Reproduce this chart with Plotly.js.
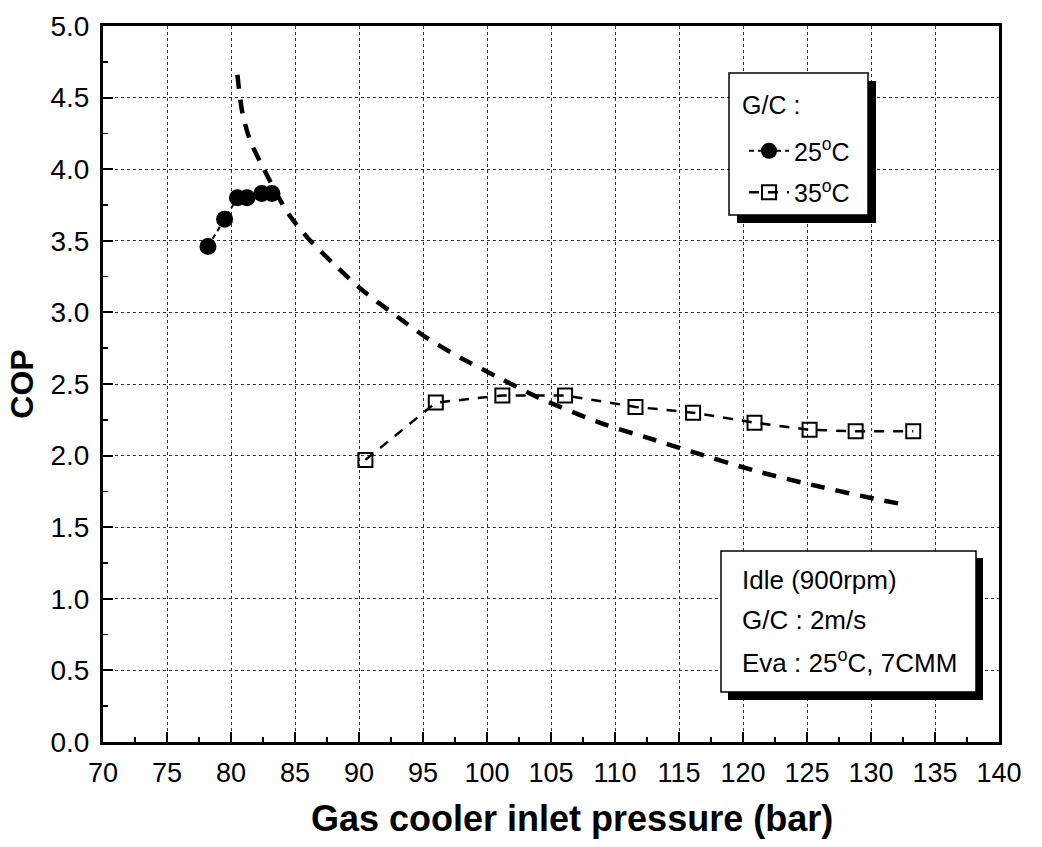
<!DOCTYPE html>
<html>
<head>
<meta charset="utf-8">
<script src="https://cdn.plot.ly/plotly-3.0.1.min.js"></script>
<style>html,body{margin:0;padding:0;background:#fff;}#chart{width:1042px;height:847px;}</style>
</head>
<body>
<div id="chart"></div>
<script>
// 25°C gas cooler data
const p25 = [78.2, 79.5, 80.5, 81.25, 82.4, 83.2];
const cop25 = [3.46, 3.65, 3.80, 3.80, 3.83, 3.83];
// 35°C gas cooler data
const p35 = [90.5, 96.0, 101.2, 106.1, 111.6, 116.1, 120.9, 125.2, 128.8, 133.3];
const cop35 = [1.97, 2.37, 2.42, 2.42, 2.34, 2.30, 2.23, 2.18, 2.17, 2.17];
// thick dashed trend curve
const pCurve = [80.5, 80.9, 81.5, 82.4, 84.4, 86.0, 88.0, 90.2, 93.0, 95.5, 98.4, 100.8, 103.9, 108.8, 112.7, 115.9, 121.1, 124.7, 130.2, 132.5];
const copCurve = [4.66, 4.39, 4.20, 4.03, 3.70, 3.52, 3.34, 3.16, 2.97, 2.81, 2.66, 2.55, 2.41, 2.23, 2.12, 2.03, 1.89, 1.81, 1.70, 1.66];
// ticks
const xTicks = [70, 75, 80, 85, 90, 95, 100, 105, 110, 115, 120, 125, 130, 135, 140];
const yTicks = [0.0, 0.5, 1.0, 1.5, 2.0, 2.5, 3.0, 3.5, 4.0, 4.5, 5.0];
const legendTitle = 'G/C :';
const name25 = '25<sup>o</sup>C';
const name35 = '35<sup>o</sup>C';
const noteLines = ['Idle (900rpm)', 'G/C : 2m/s', 'Eva : 25<sup>o</sup>C, 7CMM'];
const xTitle = 'Gas cooler inlet pressure (bar)';
const yTitle = 'COP';

const FONT = '"Liberation Sans", Arial, sans-serif';
const NARROW = '"Liberation Sans Narrow", "Arial Narrow", "Liberation Sans", sans-serif';

const traces = [
  {x: pCurve, y: copCurve, type: 'scatter', mode: 'lines', showlegend: false,
   line: {color: '#000', width: 4.5, dash: '14px,11px', shape: 'spline', smoothing: 0.8}},
  {x: p25, y: cop25, type: 'scatter', mode: 'lines+markers', name: name25, legendgroup: 'a',
   line: {color: '#000', width: 2, dash: '5px,4px'},
   marker: {symbol: 'circle', size: 17, color: '#000'}},
  {x: p35, y: cop35, type: 'scatter', mode: 'lines+markers', name: name35, legendgroup: 'b',
   line: {color: '#000', width: 2.5, dash: '10px,9px'},
   marker: {symbol: 'square-open', size: 14, color: '#000', line: {width: 2, color: '#000'}}}
];

const L = 103, R = 999, T = 26, B = 742;
const W = R - L, H = B - T;
function px(xp){ return (xp - L) / W; }
function py(yp){ return (B - yp) / H; }

const shapes = [
  // legend shadow + box
  {type: 'rect', xref: 'paper', yref: 'paper', x0: px(737), x1: px(876), y0: py(223), y1: py(81),
   fillcolor: '#000', line: {width: 0}, layer: 'above'},
  {type: 'rect', xref: 'paper', yref: 'paper', x0: px(729), x1: px(868), y0: py(215), y1: py(73),
   fillcolor: '#fff', line: {width: 1.5, color: '#000'}, layer: 'above'},
  // note box shadow + box
  {type: 'rect', xref: 'paper', yref: 'paper', x0: px(728), x1: px(983), y0: py(700), y1: py(558),
   fillcolor: '#000', line: {width: 0}, layer: 'above'},
  {type: 'rect', xref: 'paper', yref: 'paper', x0: px(721), x1: px(976), y0: py(692), y1: py(551),
   fillcolor: '#fff', line: {width: 1.5, color: '#000'}, layer: 'above'}
];

const annotations = noteLines.map((t, i) => ({
  text: t, xref: 'paper', yref: 'paper', x: px(740), y: py([580, 620, 661][i]),
  xanchor: 'left', yanchor: 'middle', showarrow: false,
  font: {family: FONT, size: 26, color: '#000'}
}));
annotations.push({
  text: legendTitle, xref: 'paper', yref: 'paper', x: px(740), y: py(105),
  xanchor: 'left', yanchor: 'middle', showarrow: false,
  font: {family: FONT, size: 25, color: '#000'}
});
annotations.push({
  text: '<b>' + xTitle + '</b>', xref: 'paper', yref: 'paper', x: px(572), y: py(818),
  xanchor: 'center', yanchor: 'middle', showarrow: false,
  font: {family: FONT, size: 36, color: '#000'}
});

const layout = {
  width: 1042, height: 847,
  margin: {l: L, r: 1042 - R, t: T, b: 847 - B},
  paper_bgcolor: '#fff', plot_bgcolor: '#fff',
  showlegend: true,
  legend: {
    x: px(744), y: py(128), xanchor: 'left', yanchor: 'top',
    bgcolor: 'rgba(0,0,0,0)', borderwidth: 0,
    font: {family: FONT, size: 25, color: '#000'},
    itemwidth: 40, tracegroupgap: 6
  },
  xaxis: {
    range: [70, 140], tickmode: 'array', tickvals: xTicks, ticktext: xTicks.map(String),
    ticks: 'inside', ticklen: 10, tickwidth: 2, tickcolor: '#000', ticklabelstandoff: 5,
    minor: {dtick: 2.5, tick0: 70, ticks: 'inside', ticklen: 5, tickwidth: 1.5, tickcolor: '#000', showgrid: false},
    showline: true, linecolor: '#000', linewidth: 3, mirror: true,
    showgrid: true, gridcolor: '#333', griddash: 'dot', gridwidth: 1,
    zeroline: false,
    tickfont: {family: NARROW, size: 27, color: '#000'}
  },
  yaxis: {
    range: [0, 5], tickmode: 'array', tickvals: yTicks, ticktext: yTicks.map(v => v.toFixed(1)),
    ticks: 'inside', ticklen: 10, tickwidth: 2, tickcolor: '#000', ticklabelstandoff: 5,
    minor: {dtick: 0.25, tick0: 0, ticks: 'inside', ticklen: 5, tickwidth: 1.5, tickcolor: '#000', showgrid: false},
    showline: true, linecolor: '#000', linewidth: 3, mirror: true,
    showgrid: true, gridcolor: '#333', griddash: 'dot', gridwidth: 1,
    zeroline: false,
    tickfont: {family: NARROW, size: 28, color: '#000'},
    title: {text: '<b>' + yTitle + '</b>', font: {family: FONT, size: 32, color: '#000'}, standoff: 8}
  },
  shapes: shapes,
  annotations: annotations
};

Plotly.newPlot('chart', traces, layout, {displayModeBar: false, staticPlot: true});
</script>
</body>
</html>
